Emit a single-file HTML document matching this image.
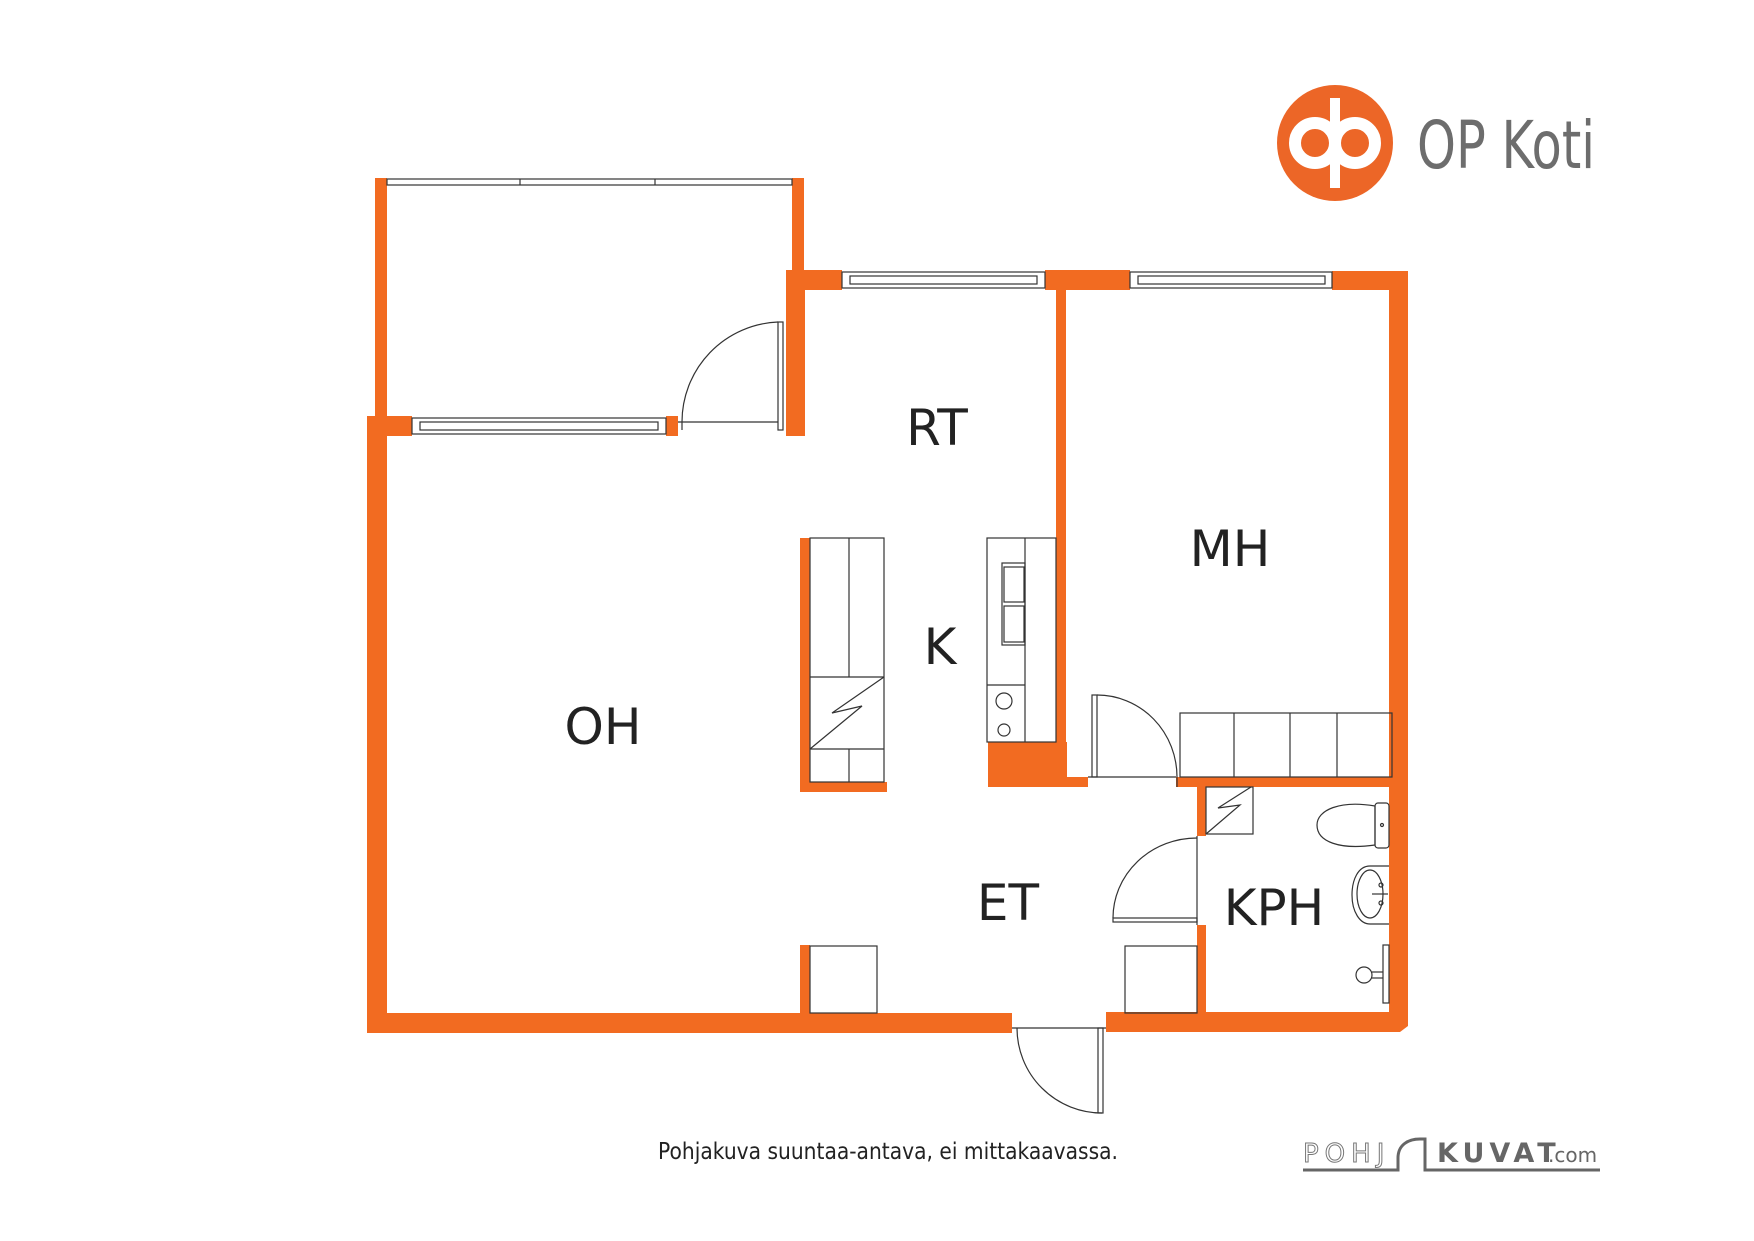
<!DOCTYPE html>
<html><head><meta charset="utf-8"><style>
html,body{margin:0;padding:0;background:#fff}
svg{display:block}
text{font-family:"DejaVu Sans","Liberation Sans",sans-serif}
</style></head><body>
<svg width="1754" height="1241" viewBox="0 0 1754 1241" xmlns="http://www.w3.org/2000/svg">
<g fill="#f26b21">
<rect x="375" y="178" width="12" height="240"/>
<rect x="792" y="178" width="12" height="95"/>
<rect x="786" y="270" width="56" height="20"/>
<rect x="786" y="270" width="19" height="166"/>
<rect x="1045" y="270" width="85" height="20"/>
<rect x="1332" y="271" width="76" height="19"/>
<rect x="1389" y="271" width="19" height="745"/>
<rect x="1056" y="288" width="10" height="490"/>
<rect x="367" y="416" width="45" height="20"/>
<rect x="367" y="416" width="20" height="617"/>
<rect x="666" y="416" width="12" height="20"/>
<rect x="367" y="1013" width="645" height="20"/>
<path d="M1106 1012 H1408 V1026 L1400 1032 H1106 Z"/>
<rect x="800" y="538" width="10" height="254"/>
<rect x="800" y="782" width="87" height="10"/>
<rect x="988" y="742" width="79" height="45"/>
<rect x="1060" y="777" width="28" height="10"/>
<rect x="1176" y="777" width="216" height="10"/>
<rect x="1197" y="787" width="9" height="49"/>
<rect x="1197" y="925" width="9" height="90"/>
<rect x="800" y="945" width="10" height="70"/>
</g>
<g fill="none" stroke="#333" stroke-width="1.2">
<rect x="387" y="179" width="405" height="6"/>
<line x1="520" y1="179" x2="520" y2="185"/><line x1="655" y1="179" x2="655" y2="185"/>
<rect x="412" y="418" width="254" height="16"/><rect x="420" y="422" width="238" height="8"/>
<rect x="842" y="272" width="203" height="16"/><rect x="850" y="276" width="187" height="8"/>
<rect x="1130" y="272" width="202" height="16"/><rect x="1138" y="276" width="187" height="8"/>
<rect x="778" y="322" width="5" height="108"/>
<line x1="678" y1="422" x2="778" y2="422"/>
<path d="M778 322 A100 100 0 0 0 682 422 V430"/>
<rect x="810" y="538" width="74" height="244"/>
<line x1="849" y1="538" x2="849" y2="677"/><line x1="849" y1="749" x2="849" y2="782"/>
<line x1="810" y1="677" x2="884" y2="677"/><line x1="810" y1="749" x2="884" y2="749"/>
<polyline points="810,749 862,706 832,713 884,677"/>
<rect x="987" y="538" width="69" height="204"/>
<line x1="1025" y1="538" x2="1025" y2="742"/>
<line x1="987" y1="685" x2="1025" y2="685"/>
<rect x="1002" y="563" width="23" height="82"/>
<rect x="1004" y="567" width="20" height="35"/><rect x="1004" y="606" width="20" height="36"/>
<circle cx="1004" cy="701" r="8"/><circle cx="1004" cy="730" r="6"/>
<rect x="1092" y="695" width="5" height="82"/>
<path d="M1097 695 A80 82 0 0 1 1177 777 V787"/>
<line x1="1088" y1="777" x2="1176" y2="777"/>
<rect x="1180" y="713" width="212" height="64"/>
<line x1="1234" y1="713" x2="1234" y2="777"/><line x1="1290" y1="713" x2="1290" y2="777"/><line x1="1337" y1="713" x2="1337" y2="777"/>
<rect x="1206" y="787" width="47" height="47"/>
<polyline points="1206,834 1240,805 1218,808 1251,787"/>
<line x1="1197" y1="836" x2="1197" y2="925"/>
<rect x="1113" y="918" width="84" height="4"/>
<path d="M1113 918 A84 80 0 0 1 1197 838"/>
<path d="M1375 806 C1340 800 1317 810 1317 825 C1317 842 1340 850 1375 845 Z"/>
<rect x="1375" y="803" width="14" height="45" rx="3"/>
<circle cx="1382" cy="825" r="1.5"/>
<path d="M1389 866 H1370 C1358 866 1352 880 1352 895 C1352 912 1360 924 1370 924 H1389"/>
<ellipse cx="1370" cy="894" rx="13" ry="24"/>
<circle cx="1381" cy="885" r="2"/><circle cx="1381" cy="903" r="2"/>
<line x1="1372" y1="894" x2="1388" y2="894"/>
<rect x="1383" y="945" width="6" height="58"/>
<circle cx="1364" cy="975" r="8"/>
<line x1="1372" y1="972" x2="1383" y2="972"/><line x1="1372" y1="978" x2="1383" y2="978"/>
<rect x="810" y="946" width="67" height="67"/>
<rect x="1125" y="946" width="72" height="67"/>
<rect x="1098" y="1028" width="5" height="85"/>
<line x1="1012" y1="1028" x2="1106" y2="1028"/>
<path d="M1017 1028 A85 85 0 0 0 1102 1113"/>
</g>
<g fill="#222" font-size="50" text-anchor="middle" font-family="DejaVu Sans Condensed, DejaVu Sans, sans-serif">
<text x="937" y="445">RT</text>
<text x="1230" y="566">MH</text>
<text x="940" y="664">K</text>
<text x="603" y="744">OH</text>
<text x="1008" y="920">ET</text>
<text x="1274" y="925">KPH</text>
</g>
<text x="658" y="1159" font-size="23" fill="#222" font-family="Liberation Sans, sans-serif" textLength="460" lengthAdjust="spacingAndGlyphs">Pohjakuva suuntaa-antava, ei mittakaavassa.</text>
<circle cx="1335" cy="143" r="58" fill="#ec6627"/>
<circle cx="1315" cy="143" r="20" fill="none" stroke="#fff" stroke-width="12"/>
<circle cx="1355" cy="143" r="20" fill="none" stroke="#fff" stroke-width="12"/>
<rect x="1330" y="98" width="10" height="90" fill="#fff"/>
<text x="1417" y="168" font-size="66" fill="#6d6d6d" font-family="Liberation Sans, sans-serif" textLength="178" lengthAdjust="spacingAndGlyphs">OP Koti</text>
<text x="1303" y="1162" font-size="26" fill="#fff" stroke="#777" stroke-width="1" letter-spacing="6" font-family="Liberation Sans, sans-serif">POHJ</text>
<text x="1437" y="1162" font-size="27" fill="#666" font-weight="bold" letter-spacing="5" font-family="Liberation Sans, sans-serif">KUVAT</text>
<text x="1548" y="1162" font-size="20" fill="#666" font-family="Liberation Sans, sans-serif">.com</text>
<path d="M1303 1170 H1398 V1158 C1398 1145 1408 1139 1420 1139 H1425 V1170 H1600" fill="none" stroke="#666" stroke-width="3"/>
</svg>
</body></html>
